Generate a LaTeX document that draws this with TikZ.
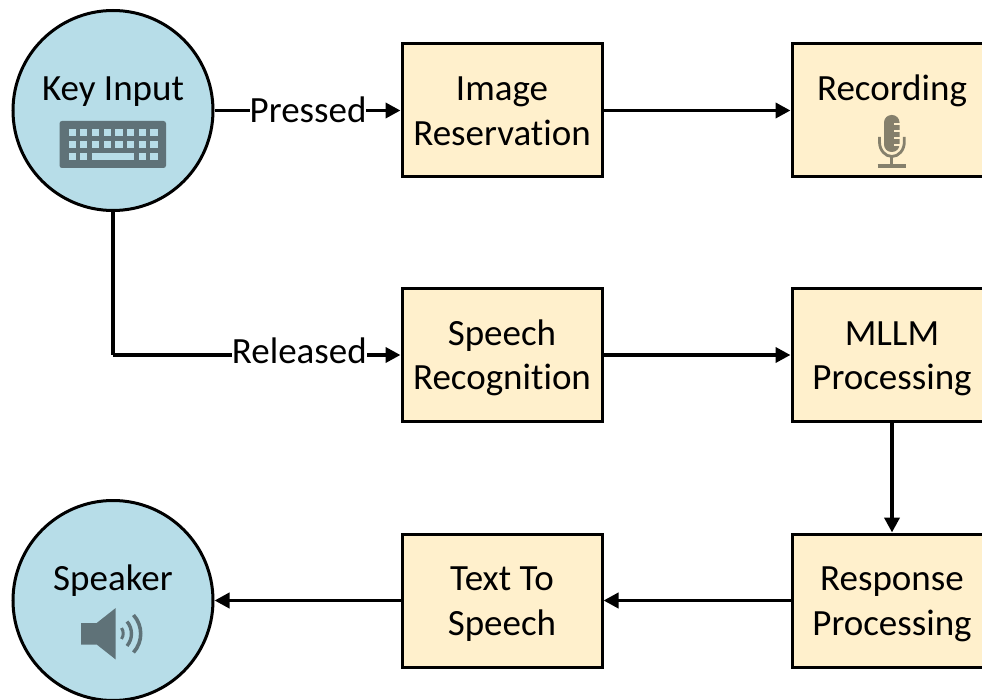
\documentclass[tikz,border=0pt]{standalone}
\usepackage{fontspec}
\setmainfont[Ligatures=NoCommon]{Carlito}
\usetikzlibrary{arrows.meta}
\definecolor{circfill}{HTML}{B7DDE8}
\definecolor{boxfill}{HTML}{FFF0CC}
\definecolor{icondark}{HTML}{5F7278}
\definecolor{iconbrown}{HTML}{85806C}
\newcommand{\lns}{\vphantom{Agd}}
\tikzset{
  every node/.style={font=\fontsize{37}{44.5}\selectfont, align=center, inner sep=0pt},
  circ/.style={circle, draw=black, line width=3pt, fill=circfill, minimum size=200pt},
  stepbox/.style={rectangle, draw=black, line width=3pt, fill=boxfill, minimum width=200pt, minimum height=133pt},
  conn/.style={draw=black, line width=3.8pt, -{Triangle[length=15pt,width=15pt]}},
  lab/.style={fill=white, inner xsep=0pt, inner ysep=0pt},
  key/.style={fill=circfill, draw=none}
}
\begin{document}
\begin{tikzpicture}[x=1pt,y=-1pt]
\useasboundingbox (0,0) rectangle (982,700);
\clip (0,0) rectangle (982,700);
\fill[white] (0,0) rectangle (982,700);
% nodes
\node[circ] (keyin) at (113,110.5) {};
\node (keytxt) at (113,91) {\lns Key Input};
\node[circ] (spk) at (113,600.5) {};
\node (spktxt) at (113,581) {\lns Speaker};
\node[stepbox] (res) at (502,110.5) {};
\node (restxt) at (502,113.5) {\lns Image\\\lns Reservation};
\node[stepbox] (rec) at (892,110.5) {};
\node (rectxt) at (892,91) {\lns Recording};
\node[stepbox] (sr) at (502,355) {};
\node (srtxt) at (502,358) {\lns Speech\\\lns Recognition};
\node[stepbox] (mllm) at (892,355) {};
\node (mllmtxt) at (892,358) {\lns MLLM\\\lns Processing};
\node[stepbox] (tts) at (502,600.5) {};
\node (ttstxt) at (502,603.5) {\lns Text To\\\lns Speech};
\node[stepbox] (resp) at (892,600.5) {};
\node (resptxt) at (892,603.5) {\lns Response\\\lns Processing};
\coordinate (corner) at (113,355);
% connectors
\draw[conn] (keyin.east) -- node[lab, pos=0.503, yshift=-2.5pt] (pressed) {\lns Pressed} (res.west);
\draw[conn] (res.east) -- (rec.west);
\draw[line width=3.8pt] (keyin.south) -- (corner);
\draw[conn] (corner) -- node[lab, pos=0.648, yshift=1pt] (released) {\lns Released} (sr.west);
\draw[conn] (sr.east) -- (mllm.west);
\draw[conn] (mllm.south) -- (resp.north);
\draw[conn] (resp.west) -- (tts.east);
\draw[conn] (tts.west) -- (spk.east);
% keyboard icon
\fill[icondark, rounded corners=2.5pt] (59.5,121) rectangle (166,168);
\foreach \r in {129.5,141}{
  \foreach \c in {0,...,7}{
    \fill[key] ({68.5+\c*11.7},\r) rectangle ++(7.2,7);
  }
}
\foreach \c in {0,1,6,7}{
  \fill[key] ({68.5+\c*11.7},153) rectangle ++(7.2,7);
}
\fill[key] (92,153) rectangle (133.5,160);
% microphone icon
\fill[iconbrown, rounded corners=7.5pt] (884,115) rectangle (899.5,152);
\foreach \y in {124,131,138,145}{
  \fill[boxfill] (893.5,\y-0.8) rectangle (900,\y+0.8);
}
\draw[iconbrown, line width=2.8pt] (879.5,137) -- (879.5,142) arc[start angle=180, end angle=360, x radius=12.4, y radius=-14.5] -- (904.3,137);
\draw[iconbrown, line width=3pt] (891.9,156) -- (891.9,166);
\draw[iconbrown, line width=3.3pt] (877.5,166) -- (906,166);
% speaker icon
\fill[icondark] (81,623) -- (96.7,623) -- (115.7,608) -- (115.7,659.5) -- (96.7,644.5) -- (81,644.5) -- cycle;
\draw[icondark, line width=3pt] (121.5,628) arc[start angle=-35, end angle=35, radius=9.5];
\draw[icondark, line width=3.4pt] (127,621.5) arc[start angle=-40, end angle=40, radius=19];
\draw[icondark, line width=3.6pt] (133.5,615) arc[start angle=-42, end angle=42, radius=28];
\end{tikzpicture}
\end{document}
